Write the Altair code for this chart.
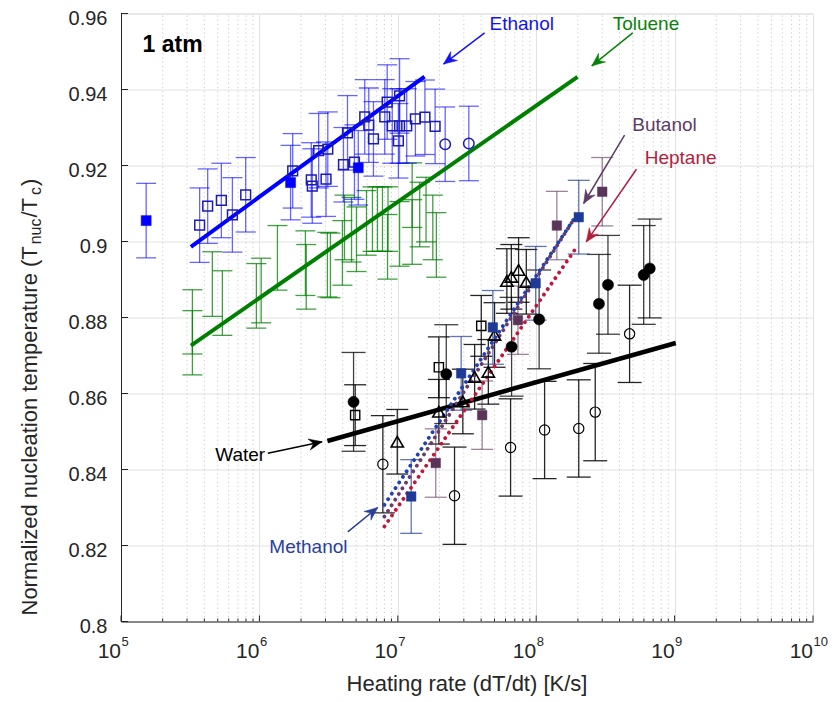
import math
import altair as alt
import pandas as pd

# ---------------- data ----------------
# Ethanol
eth_open_x = [3.70e5, 4.23e5, 5.31e5, 6.38e5, 7.96e5, 1.74e6, 2.37e6, 2.41e6, 2.68e6, 3.03e6,
              3.12e6, 4.05e6, 4.33e6, 4.86e6, 5.77e6, 6.17e6, 6.67e6, 8.05e6, 8.38e6, 9.12e6,
              1.01e7, 1.03e7, 1.03e7, 1.16e7, 1.34e7, 1.57e7, 1.86e7]
eth_open_y = [0.9043, 0.9093, 0.9108, 0.9070, 0.9123, 0.9186, 0.9162, 0.9146, 0.9239, 0.9164,
              0.9243, 0.9202, 0.9286, 0.9209, 0.9328, 0.9306, 0.9270, 0.9328, 0.9367, 0.9304,
              0.9265, 0.9383, 0.9304, 0.9304, 0.9323, 0.9327, 0.9303]
eth_fill_x = [1.52e5, 1.68e6, 5.18e6]
eth_fill_y = [0.9055, 0.9155, 0.9194]
eth_circ_x = [2.20e7, 3.26e7]
eth_circ_y = [0.9256, 0.9258]
eth_err = 0.0098
eth_fit_x = [3.2e5, 1.56e7]
eth_fit_y = [0.8986, 0.9434]

# Toluene (error bars only)
tol_x = [3.28e5, 3.28e5, 4.57e5, 5.40e5, 9.51e5, 1.03e6, 1.35e6, 2.15e6, 2.18e6, 3.10e6,
         3.26e6, 3.98e6, 4.12e6, 4.63e6, 5.03e6, 5.94e6, 6.56e6, 7.13e6, 7.75e6, 8.43e6,
         8.50e6, 1.03e7, 1.27e7, 1.27e7, 1.44e7, 1.60e7, 1.79e7, 1.90e7]
tol_y = [0.8761, 0.8761, 0.8888, 0.8838, 0.8857, 0.8871, 0.8957, 0.8943, 0.8907, 0.8939,
         0.8937, 0.8970, 0.9037, 0.9031, 0.9006, 0.9049, 0.9059, 0.9059, 0.9059, 0.8986,
         0.9059, 0.9020, 0.9122, 0.9025, 0.9071, 0.9084, 0.9037, 0.8991]
tol_err = [0.0112, 0.0057] + [0.0085] * 26
tol_fit_x = [3.2e5, 1.99e8]
tol_fit_y = [0.8726, 0.9433]

# Water (black)
wfc_x = [4.79e6, 2.24e7, 6.64e7, 1.05e8, 2.84e8, 3.30e8, 5.98e8, 6.61e8]
wfc_y = [0.8578, 0.8651, 0.8723, 0.8795, 0.8836, 0.8886, 0.8912, 0.8929]
woc_x = [7.80e6, 2.57e7, 6.53e7, 1.15e8, 2.03e8, 2.67e8, 4.73e8]
woc_y = [0.8414, 0.8331, 0.8458, 0.8504, 0.8508, 0.8551, 0.8757]
wtr_x = [9.91e6, 1.98e7, 2.95e7, 3.59e7, 4.51e7, 5.0e7, 6.14e7, 6.61e7, 7.46e7, 8.48e7]
wtr_y = [0.8473, 0.8552, 0.8579, 0.8644, 0.8657, 0.8754, 0.8896, 0.8907, 0.8925, 0.8894]
wsq_x = [4.92e6, 1.98e7, 4.01e7]
wsq_y = [0.8543, 0.8669, 0.8778]
wat_fit_x = [3.1e6, 1.02e9]
wat_fit_y = [0.8475, 0.8733]

# Methanol / Butanol / Heptane
met_x = [1.25e7, 2.87e7, 4.86e7, 9.91e7, 2.03e8]
met_y = [0.8329, 0.8653, 0.8774, 0.8890, 0.9064]
but_x = [1.88e7, 4.07e7, 7.38e7, 1.41e8, 3.0e8]
but_y = [0.8417, 0.8543, 0.8793, 0.9042, 0.9131]
met_fit_x = [8.0e6, 1.96e8]
met_fit_y = [0.8307, 0.9070]
but_fit_x = [8.0e6, 1.86e8]
but_fit_y = [0.8276, 0.9057]
hep_fit_x = [8.0e6, 1.90e8]
hep_fit_y = [0.8250, 0.8978]

# annotations: label, text x, text y, arrow tail (x, y), arrow head (x, y)
ann_labels = ["Ethanol", "Toluene", "Butanol", "Heptane", "Water", "Methanol"]
ann_tx = [4.60e7, 3.57e8, 4.95e8, 6.08e8, 1.10e6, 1.18e6]
ann_ty = [0.9572, 0.9572, 0.9307, 0.9219, 0.8438, 0.8197]
arr_x0 = [4.24e7, 4.98e8, 4.35e8, 5.30e8, 1.15e6, 4.35e6]
arr_y0 = [0.9549, 0.9549, 0.9280, 0.9190, 0.8443, 0.8236]
arr_x1 = [2.14e7, 2.52e8, 2.20e8, 2.30e8, 2.84e6, 7.16e6]
arr_y1 = [0.9467, 0.9462, 0.9100, 0.8999, 0.8473, 0.8300]

decades = [1e5, 1e6, 1e7, 1e8, 1e9, 1e10]
exponents = ["5", "6", "7", "8", "9", "10"]
minor = [m * 10 ** k for k in range(5, 10) for m in range(2, 10)]
yticks = [0.8, 0.82, 0.84, 0.86, 0.88, 0.9, 0.92, 0.94, 0.96]

# ---------------- styling ----------------
W, H = 692, 608
FONT = "Liberation Sans"
C_ETH, C_TOL, C_MET, C_BUT = "#0000ff", "#008000", "#1f3a96", "#5a3459"
ann_colors = ["#1414f0", "#0a820a", "#5e3c63", "#b01e3c", "#000000", "#2b3f9c"]

xs = alt.Scale(type="log", domain=[1e5, 1e10], nice=False)
ys = alt.Scale(domain=[0.8, 0.96], nice=False, zero=False)
xaxis = alt.Axis(values=decades, labels=False, ticks=False, grid=True, gridColor="#e2e2e2",
                 gridWidth=1, domainColor="#262626", domainWidth=1, title=None)
yaxis = alt.Axis(values=yticks, format="~g", labelFont=FONT, labelFontSize=20,
                 labelColor="#262626", labelPadding=14, labelOffset=5, ticks=False, tickSize=0,
                 grid=True, gridColor="#e2e2e2", gridWidth=1, domainColor="#262626",
                 domainWidth=1, title=None)


def XE():
    return alt.X("x:Q", scale=xs, axis=xaxis)


def YE():
    return alt.Y("y:Q", scale=ys, axis=yaxis)


def errbars(xv, yv, err, color, cap=20, width=1.3, opacity=1.0):
    errs = err if isinstance(err, list) else [err] * len(xv)
    lo = [a - e for a, e in zip(yv, errs)]
    hi = [a + e for a, e in zip(yv, errs)]
    df = pd.DataFrame({"x": xv, "y": lo, "y2": hi})
    rule = alt.Chart(df).mark_rule(color=color, strokeWidth=width, opacity=opacity).encode(
        x=XE(), y=YE(), y2="y2:Q")
    caps = pd.DataFrame({"x": list(xv) * 2, "y": lo + hi})
    tick = alt.Chart(caps).mark_tick(orient="horizontal", size=cap, thickness=width,
                                     color=color, opacity=opacity).encode(x=XE(), y=YE())
    return [rule, tick]


def points(xv, yv, shape, size, color, filled, sw=1.5):
    df = pd.DataFrame({"x": xv, "y": yv})
    if filled:
        m = alt.Chart(df).mark_point(shape=shape, size=size, filled=True, fill=color,
                                     stroke=color, strokeWidth=0.5, opacity=1)
    else:
        m = alt.Chart(df).mark_point(shape=shape, size=size, filled=False, stroke=color,
                                     strokeWidth=sw, opacity=1)
    return m.encode(x=XE(), y=YE())


def fitline(xv, yv, color, width=4, dotted=False):
    df = pd.DataFrame({"x": xv, "y": yv})
    if dotted:
        mk = alt.Chart(df).mark_line(color=color, strokeWidth=3.8, strokeDash=[0.1, 6.6],
                                     strokeCap="round")
    else:
        mk = alt.Chart(df).mark_line(color=color, strokeWidth=width)
    return mk.encode(x=XE(), y=YE())


def px(xv, yv):
    return ((math.log10(xv) - 5) / 5 * W, (0.96 - yv) / 0.16 * H)


layers = []
# frame/axis carrier
layers.append(alt.Chart(pd.DataFrame({"x": [1e5], "y": [0.8]})).mark_point(opacity=0).encode(
    x=XE(), y=YE()))
# minor dotted grid
mg = pd.DataFrame({"x": minor, "y": [0.8] * len(minor), "y2": [0.96] * len(minor)})
layers.append(alt.Chart(mg).mark_rule(color="#c4c4c4", strokeWidth=0.9, strokeDash=[1.2, 3]).encode(
    x=XE(), y=YE(), y2="y2:Q"))
# inward ticks
layers.append(alt.Chart(pd.DataFrame({"x": minor})).mark_rule(color="#262626", strokeWidth=1).encode(
    x=XE(), y=alt.value(H), y2=alt.value(H - 3)))
layers.append(alt.Chart(pd.DataFrame({"x": decades})).mark_rule(color="#262626", strokeWidth=1).encode(
    x=XE(), y=alt.value(H), y2=alt.value(H - 6)))
layers.append(alt.Chart(pd.DataFrame({"y": yticks})).mark_rule(color="#262626", strokeWidth=1).encode(
    y=YE(), x=alt.value(0), x2=alt.value(7)))

# error bars
layers += errbars(tol_x, tol_y, tol_err, C_TOL, cap=20, width=1.3, opacity=0.75)
layers += errbars(eth_open_x + eth_fill_x + eth_circ_x, eth_open_y + eth_fill_y + eth_circ_y,
                  eth_err, C_ETH, cap=20, width=1.3, opacity=0.6)
layers += errbars(wfc_x, wfc_y, 0.0130, "#000000", cap=24, width=1.3, opacity=0.75)
layers += errbars(woc_x, woc_y, 0.0128, "#000000", cap=24, width=1.3, opacity=0.85)
layers += errbars(wtr_x, wtr_y, 0.0085, "#000000", cap=22, width=1.3, opacity=0.85)
layers += errbars(wsq_x, wsq_y, 0.0080, "#000000", cap=22, width=1.3, opacity=0.85)
layers += errbars(met_x, met_y, 0.0097, C_MET, cap=22, width=1.3, opacity=0.7)
layers += errbars(but_x, but_y, 0.0090, C_BUT, cap=22, width=1.3, opacity=0.6)

# fit lines
layers.append(fitline(tol_fit_x, tol_fit_y, C_TOL))
layers.append(fitline(eth_fit_x, eth_fit_y, C_ETH))
layers.append(fitline(wat_fit_x, wat_fit_y, "#000000", width=4.5))
layers.append(fitline(hep_fit_x, hep_fit_y, "#c0183c", dotted=True))
layers.append(fitline(but_fit_x, but_fit_y, "#6a3a6a", dotted=True))
layers.append(fitline(met_fit_x, met_fit_y, "#1f42b0", dotted=True))

# markers
layers.append(points(eth_open_x, eth_open_y, "square", 95, "#1c1cb4", False))
layers.append(points(eth_fill_x, eth_fill_y, "square", 100, C_ETH, True))
layers.append(points(eth_circ_x, eth_circ_y, "circle", 110, "#1c1cb4", False))
layers.append(points(wfc_x, wfc_y, "circle", 125, "#000000", True))
layers.append(points(woc_x, woc_y, "circle", 105, "#000000", False, sw=1.2))
layers.append(points(wtr_x, wtr_y, "triangle-up", 150, "#000000", False, sw=1.6))
layers.append(points(wsq_x, wsq_y, "square", 85, "#000000", False, sw=1.4))
layers.append(points(met_x, met_y, "square", 90, C_MET, True))
layers.append(points(but_x, but_y, "square", 90, C_BUT, True))

# annotations
for i, lab in enumerate(ann_labels):
    al = "right" if lab == "Water" else "left"
    layers.append(alt.Chart(pd.DataFrame({"x": [ann_tx[i]], "y": [ann_ty[i]], "t": [lab]})).mark_text(
        font=FONT, fontSize=19, color=ann_colors[i], align=al, baseline="middle").encode(
        x=XE(), y=YE(), text="t:N"))
    seg = pd.DataFrame({"x": [arr_x0[i], arr_x1[i]], "y": [arr_y0[i], arr_y1[i]]})
    layers.append(alt.Chart(seg).mark_line(color=ann_colors[i], strokeWidth=1.5).encode(
        x=XE(), y=YE()))
    p0 = px(arr_x0[i], arr_y0[i])
    p1 = px(arr_x1[i], arr_y1[i])
    ang = math.degrees(math.atan2(p1[1] - p0[1], p1[0] - p0[0])) % 360
    head = pd.DataFrame({"x": [arr_x1[i]], "y": [arr_y1[i]]})
    layers.append(alt.Chart(head).mark_point(
        shape="M0,0L-1,-0.42L-0.66,0L-1,0.42Z", size=700, filled=True, fill=ann_colors[i],
        stroke=ann_colors[i], strokeWidth=0.5, opacity=1, angle=round(ang, 1)).encode(
        x=XE(), y=YE()))

layers.append(alt.Chart(pd.DataFrame({"x": [1.43e5], "y": [0.9517], "t": ["1 atm"]})).mark_text(
    font=FONT, fontSize=23, fontWeight="bold", color="#000000", align="left",
    baseline="middle").encode(x=XE(), y=YE(), text="t:N"))

# x tick labels 10^n
dec_df = pd.DataFrame({"x": decades, "t": ["10"] * 6, "e": exponents})
layers.append(alt.Chart(dec_df).mark_text(font=FONT, fontSize=21, color="#262626", align="right",
                                          baseline="middle").encode(
    x=XE(), y=alt.value(H + 30), text="t:N"))
layers.append(alt.Chart(dec_df).mark_text(font=FONT, fontSize=13, color="#262626", align="left",
                                          baseline="middle", dx=0.5).encode(
    x=XE(), y=alt.value(H + 20), text="e:N"))

# axis titles
layers.append(alt.Chart(pd.DataFrame({"t": ["Heating rate (dT/dt) [K/s]"]})).mark_text(
    font=FONT, fontSize=22, color="#262626", align="center", baseline="middle").encode(
    x=alt.value(W / 2), y=alt.value(H + 62), text="t:N"))

# y title built from pieces (main text and lowered subscripts), rotated
ytitle_parts = [
    ("Normalized nucleation temperature (T", 22, 0, 2),
    ("nuc", 16, 6, 1),
    ("/T", 22, 0, 3),
    ("c", 16, 6, 1),
    (")", 22, 0, 0),
]
adv = {"Normalized nucleation temperature (T": 16.78, "nuc": 1.61, "/T": 0.89, "c": 0.5, ")": 0.333}
ycur = 602.0
for txt, fs, dx, gap in ytitle_parts:
    layers.append(alt.Chart(pd.DataFrame({"t": [txt]})).mark_text(
        font=FONT, fontSize=fs, color="#262626", align="left", baseline="middle",
        angle=270).encode(x=alt.value(-91 + dx), y=alt.value(ycur), text="t:N"))
    ycur -= adv[txt] * fs + gap

chart = alt.layer(*layers).properties(
    width=W, height=H,
    autosize=alt.AutoSizeParams(type="none"),
    padding={"left": 113, "top": 5.5, "right": 15, "bottom": 74},
).configure_view(stroke=None).configure(background="white")

chart.save("out.html", embed_options={"renderer": "svg", "actions": False})
